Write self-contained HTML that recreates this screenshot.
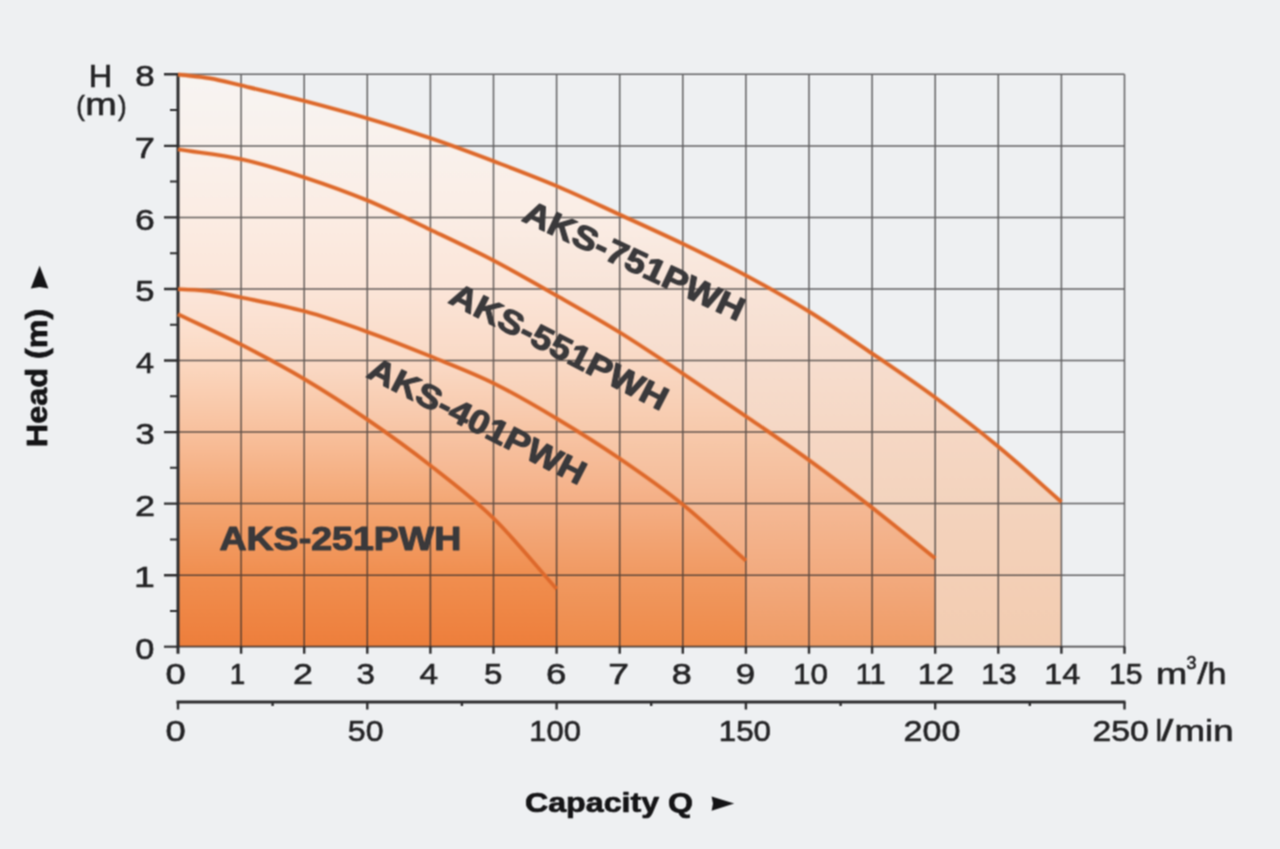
<!DOCTYPE html>
<html lang="en"><head><meta charset="utf-8"><title>Pump performance curves</title>
<style>
html,body{margin:0;padding:0;background:#eef0f2;}
body{width:1280px;height:849px;overflow:hidden;font-family:"Liberation Sans",sans-serif;}
svg{display:block;}
text{font-family:"Liberation Sans",sans-serif;}
.t{fill:#232325;stroke:#232325;stroke-width:0.6px;}
.b{font-weight:bold;fill:#3a393b;stroke:#3a393b;stroke-width:1.1px;stroke-linejoin:round;}
.k{font-weight:bold;fill:#141416;stroke:#141416;stroke-width:0.7px;stroke-linejoin:round;}
</style></head><body>
<svg width="1280" height="849" viewBox="0 0 1280 849">
<defs>
<filter id="soft" x="0" y="0" width="1280" height="849" filterUnits="userSpaceOnUse" color-interpolation-filters="sRGB"><feConvolveMatrix order="3" kernelMatrix="1 2 1 2 4 2 1 2 1" divisor="16" edgeMode="duplicate" preserveAlpha="true"/></filter>
<linearGradient id="g751" gradientUnits="userSpaceOnUse" x1="0" y1="74.3" x2="0" y2="646.7">
<stop offset="0.0000" stop-color="#f7f4f2"/>
<stop offset="0.1250" stop-color="#f9f1ec"/>
<stop offset="0.2500" stop-color="#faede5"/>
<stop offset="0.3750" stop-color="#f8e4d8"/>
<stop offset="0.5000" stop-color="#f6ddce"/>
<stop offset="0.6250" stop-color="#f5d7c4"/>
<stop offset="0.7500" stop-color="#f3d3bd"/>
<stop offset="0.8750" stop-color="#f3cfb6"/>
<stop offset="1.0000" stop-color="#f2ccb1"/>
</linearGradient>
<linearGradient id="g551" gradientUnits="userSpaceOnUse" x1="0" y1="145.9" x2="0" y2="646.7">
<stop offset="0.0000" stop-color="#f9f1ec"/>
<stop offset="0.1429" stop-color="#fbece3"/>
<stop offset="0.2857" stop-color="#fbe5d8"/>
<stop offset="0.4286" stop-color="#f9d9c5"/>
<stop offset="0.5714" stop-color="#f7c9ab"/>
<stop offset="0.7143" stop-color="#f4b995"/>
<stop offset="0.8571" stop-color="#f2aa7e"/>
<stop offset="1.0000" stop-color="#ef9b65"/>
</linearGradient>
<linearGradient id="g401" gradientUnits="userSpaceOnUse" x1="0" y1="289.0" x2="0" y2="646.7">
<stop offset="0.0000" stop-color="#fbe6da"/>
<stop offset="0.2000" stop-color="#fadac6"/>
<stop offset="0.4000" stop-color="#f7c4a4"/>
<stop offset="0.6000" stop-color="#f4ae84"/>
<stop offset="0.8000" stop-color="#f09961"/>
<stop offset="1.0000" stop-color="#ee8a49"/>
</linearGradient>
<linearGradient id="g251" gradientUnits="userSpaceOnUse" x1="0" y1="310.4" x2="0" y2="646.7">
<stop offset="0.0000" stop-color="#fce4d5"/>
<stop offset="0.1489" stop-color="#fbd8c1"/>
<stop offset="0.3617" stop-color="#f8c09d"/>
<stop offset="0.5745" stop-color="#f3a673"/>
<stop offset="0.7872" stop-color="#f08e4f"/>
<stop offset="1.0000" stop-color="#ed7e3b"/>
</linearGradient>
</defs>
<g filter="url(#soft)">
<rect width="1280" height="849" fill="#eef0f2"/>
<path d="M178.0 646.7 L178.0 74.5 C188.5 75.8 199.0 76.5 209.6 78.3 C220.1 80.1 225.3 81.6 241.1 85.4 C256.9 89.2 283.2 95.4 304.2 100.9 C325.2 106.4 346.3 112.1 367.3 118.3 C388.3 124.5 409.4 131.0 430.4 138.2 C451.4 145.3 472.5 153.2 493.5 161.2 C514.5 169.2 535.6 177.1 556.6 186.0 C577.6 194.9 598.7 205.0 619.7 214.6 C640.7 224.2 661.8 233.7 682.8 243.8 C703.8 253.9 724.9 264.1 745.9 275.4 C766.9 286.7 788.0 298.5 809.0 311.5 C830.0 324.5 851.1 339.2 872.1 353.5 C893.1 367.8 914.2 382.0 935.2 397.5 C956.2 413.0 977.3 429.2 998.3 446.6 C1019.3 464.0 1040.4 483.5 1061.4 502.0 L1061.4 646.7 Z" fill="url(#g751)"/>
<path d="M178.0 646.7 L178.0 149.4 C199.0 152.7 220.1 154.5 241.1 159.2 C262.1 163.8 283.2 170.4 304.2 177.3 C325.2 184.2 346.3 191.7 367.3 200.4 C388.3 209.1 409.4 219.7 430.4 229.7 C451.4 239.7 472.5 249.5 493.5 260.5 C514.5 271.5 535.6 283.6 556.6 295.6 C577.6 307.6 598.7 319.4 619.7 332.4 C640.7 345.4 661.8 359.6 682.8 373.6 C703.8 387.6 724.9 401.9 745.9 416.3 C766.9 430.7 788.0 444.9 809.0 460.1 C830.0 475.3 851.1 491.3 872.1 507.7 C893.1 524.1 914.2 541.5 935.2 558.4 L935.2 646.7 Z" fill="url(#g551)"/>
<path d="M178.0 646.7 L178.0 289.1 C188.5 289.8 199.0 289.9 209.6 291.3 C220.1 292.7 225.3 294.1 241.1 297.4 C256.9 300.7 283.2 305.5 304.2 311.2 C325.2 316.9 346.3 324.3 367.3 331.8 C388.3 339.3 409.4 347.7 430.4 356.3 C451.4 364.9 472.5 372.8 493.5 383.2 C514.5 393.6 535.6 405.9 556.6 418.5 C577.6 431.1 598.7 444.3 619.7 458.6 C640.7 472.9 661.8 487.5 682.8 504.5 C703.8 521.5 724.9 542.0 745.9 560.7 L745.9 646.7 Z" fill="url(#g401)"/>
<path d="M178.0 646.7 L178.0 314.2 C199.0 324.3 220.1 333.8 241.1 344.6 C262.1 355.4 283.2 366.5 304.2 379.0 C325.2 391.5 346.3 405.1 367.3 419.5 C388.3 433.9 409.4 449.0 430.4 465.5 C451.4 482.0 472.5 497.7 493.5 518.3 C514.5 538.9 535.6 565.4 556.6 589.0 L556.6 646.7 Z" fill="url(#g251)"/>
<path d="M241.1 74.3 V646.7 M304.2 74.3 V646.7 M367.3 74.3 V646.7 M430.4 74.3 V646.7 M493.5 74.3 V646.7 M556.6 74.3 V646.7 M619.7 74.3 V646.7 M682.8 74.3 V646.7 M745.9 74.3 V646.7 M809.0 74.3 V646.7 M872.1 74.3 V646.7 M935.2 74.3 V646.7 M998.3 74.3 V646.7 M1061.4 74.3 V646.7 M1124.5 74.3 V646.7 M178.0 575.2 H1124.5 M178.0 503.6 H1124.5 M178.0 432.1 H1124.5 M178.0 360.5 H1124.5 M178.0 289.0 H1124.5 M178.0 217.4 H1124.5 M178.0 145.9 H1124.5 M178.0 74.3 H1124.5" stroke="#29282a" stroke-opacity="0.72" stroke-width="1.5" fill="none"/>
<path d="M178.0 646.7 H1125.2" stroke="#29282a" stroke-opacity="0.8" stroke-width="1.7" fill="none"/>
<path d="M164.0 646.7 H178.0" stroke="#2c2c2e" stroke-width="2.1" fill="none"/>
<path d="M164.0 575.2 H178.0 M164.0 503.6 H178.0 M164.0 432.1 H178.0 M164.0 360.5 H178.0 M164.0 289.0 H178.0 M164.0 217.4 H178.0 M164.0 145.9 H178.0 M164.0 74.3 H178.0 M241.1 646.7 V653.7 M304.2 646.7 V653.7 M367.3 646.7 V653.7 M430.4 646.7 V653.7 M493.5 646.7 V653.7 M556.6 646.7 V653.7 M619.7 646.7 V653.7 M682.8 646.7 V653.7 M745.9 646.7 V653.7 M809.0 646.7 V653.7 M872.1 646.7 V653.7 M935.2 646.7 V653.7 M998.3 646.7 V653.7 M1061.4 646.7 V653.7 M1124.5 646.7 V653.7" stroke="#2c2c2e" stroke-width="2.4" fill="none"/>
<path d="M170.0 610.9 H178.0 M170.0 539.4 H178.0 M170.0 467.8 H178.0 M170.0 396.3 H178.0 M170.0 324.7 H178.0 M170.0 253.2 H178.0 M170.0 181.6 H178.0 M170.0 110.1 H178.0" stroke="#2c2c2e" stroke-width="2.0" fill="none"/>
<path d="M178.0 73.6 V653.7" stroke="#2c2c2e" stroke-width="3" fill="none"/>
<path d="M178.0 74.5 C188.5 75.8 199.0 76.5 209.6 78.3 C220.1 80.1 225.3 81.6 241.1 85.4 C256.9 89.2 283.2 95.4 304.2 100.9 C325.2 106.4 346.3 112.1 367.3 118.3 C388.3 124.5 409.4 131.0 430.4 138.2 C451.4 145.3 472.5 153.2 493.5 161.2 C514.5 169.2 535.6 177.1 556.6 186.0 C577.6 194.9 598.7 205.0 619.7 214.6 C640.7 224.2 661.8 233.7 682.8 243.8 C703.8 253.9 724.9 264.1 745.9 275.4 C766.9 286.7 788.0 298.5 809.0 311.5 C830.0 324.5 851.1 339.2 872.1 353.5 C893.1 367.8 914.2 382.0 935.2 397.5 C956.2 413.0 977.3 429.2 998.3 446.6 C1019.3 464.0 1040.4 483.5 1061.4 502.0" stroke="#ee8140" stroke-opacity="0.4" stroke-width="5" fill="none" stroke-linecap="butt"/>
<path d="M178.0 74.5 C188.5 75.8 199.0 76.5 209.6 78.3 C220.1 80.1 225.3 81.6 241.1 85.4 C256.9 89.2 283.2 95.4 304.2 100.9 C325.2 106.4 346.3 112.1 367.3 118.3 C388.3 124.5 409.4 131.0 430.4 138.2 C451.4 145.3 472.5 153.2 493.5 161.2 C514.5 169.2 535.6 177.1 556.6 186.0 C577.6 194.9 598.7 205.0 619.7 214.6 C640.7 224.2 661.8 233.7 682.8 243.8 C703.8 253.9 724.9 264.1 745.9 275.4 C766.9 286.7 788.0 298.5 809.0 311.5 C830.0 324.5 851.1 339.2 872.1 353.5 C893.1 367.8 914.2 382.0 935.2 397.5 C956.2 413.0 977.3 429.2 998.3 446.6 C1019.3 464.0 1040.4 483.5 1061.4 502.0" stroke="#dd692c" stroke-width="3.4" fill="none" stroke-linecap="butt"/>
<path d="M178.0 149.4 C199.0 152.7 220.1 154.5 241.1 159.2 C262.1 163.8 283.2 170.4 304.2 177.3 C325.2 184.2 346.3 191.7 367.3 200.4 C388.3 209.1 409.4 219.7 430.4 229.7 C451.4 239.7 472.5 249.5 493.5 260.5 C514.5 271.5 535.6 283.6 556.6 295.6 C577.6 307.6 598.7 319.4 619.7 332.4 C640.7 345.4 661.8 359.6 682.8 373.6 C703.8 387.6 724.9 401.9 745.9 416.3 C766.9 430.7 788.0 444.9 809.0 460.1 C830.0 475.3 851.1 491.3 872.1 507.7 C893.1 524.1 914.2 541.5 935.2 558.4" stroke="#ee8140" stroke-opacity="0.4" stroke-width="5" fill="none" stroke-linecap="butt"/>
<path d="M178.0 149.4 C199.0 152.7 220.1 154.5 241.1 159.2 C262.1 163.8 283.2 170.4 304.2 177.3 C325.2 184.2 346.3 191.7 367.3 200.4 C388.3 209.1 409.4 219.7 430.4 229.7 C451.4 239.7 472.5 249.5 493.5 260.5 C514.5 271.5 535.6 283.6 556.6 295.6 C577.6 307.6 598.7 319.4 619.7 332.4 C640.7 345.4 661.8 359.6 682.8 373.6 C703.8 387.6 724.9 401.9 745.9 416.3 C766.9 430.7 788.0 444.9 809.0 460.1 C830.0 475.3 851.1 491.3 872.1 507.7 C893.1 524.1 914.2 541.5 935.2 558.4" stroke="#dd692c" stroke-width="3.4" fill="none" stroke-linecap="butt"/>
<path d="M178.0 289.1 C188.5 289.8 199.0 289.9 209.6 291.3 C220.1 292.7 225.3 294.1 241.1 297.4 C256.9 300.7 283.2 305.5 304.2 311.2 C325.2 316.9 346.3 324.3 367.3 331.8 C388.3 339.3 409.4 347.7 430.4 356.3 C451.4 364.9 472.5 372.8 493.5 383.2 C514.5 393.6 535.6 405.9 556.6 418.5 C577.6 431.1 598.7 444.3 619.7 458.6 C640.7 472.9 661.8 487.5 682.8 504.5 C703.8 521.5 724.9 542.0 745.9 560.7" stroke="#ee8140" stroke-opacity="0.4" stroke-width="5" fill="none" stroke-linecap="butt"/>
<path d="M178.0 289.1 C188.5 289.8 199.0 289.9 209.6 291.3 C220.1 292.7 225.3 294.1 241.1 297.4 C256.9 300.7 283.2 305.5 304.2 311.2 C325.2 316.9 346.3 324.3 367.3 331.8 C388.3 339.3 409.4 347.7 430.4 356.3 C451.4 364.9 472.5 372.8 493.5 383.2 C514.5 393.6 535.6 405.9 556.6 418.5 C577.6 431.1 598.7 444.3 619.7 458.6 C640.7 472.9 661.8 487.5 682.8 504.5 C703.8 521.5 724.9 542.0 745.9 560.7" stroke="#dd692c" stroke-width="3.4" fill="none" stroke-linecap="butt"/>
<path d="M178.0 314.2 C199.0 324.3 220.1 333.8 241.1 344.6 C262.1 355.4 283.2 366.5 304.2 379.0 C325.2 391.5 346.3 405.1 367.3 419.5 C388.3 433.9 409.4 449.0 430.4 465.5 C451.4 482.0 472.5 497.7 493.5 518.3 C514.5 538.9 535.6 565.4 556.6 589.0" stroke="#ee8140" stroke-opacity="0.4" stroke-width="5" fill="none" stroke-linecap="butt"/>
<path d="M178.0 314.2 C199.0 324.3 220.1 333.8 241.1 344.6 C262.1 355.4 283.2 366.5 304.2 379.0 C325.2 391.5 346.3 405.1 367.3 419.5 C388.3 433.9 409.4 449.0 430.4 465.5 C451.4 482.0 472.5 497.7 493.5 518.3 C514.5 538.9 535.6 565.4 556.6 589.0" stroke="#dd692c" stroke-width="3.4" fill="none" stroke-linecap="butt"/>
<path d="M176.5 702.0 H1125.5" stroke="#2c2c2e" stroke-width="3" fill="none"/>
<path d="M178.0 702.0 V709.5 M272.6 702.0 V706.0 M367.3 702.0 V709.5 M461.9 702.0 V706.0 M556.6 702.0 V709.5 M651.2 702.0 V706.0 M745.9 702.0 V709.5 M840.6 702.0 V706.0 M935.2 702.0 V709.5 M1029.8 702.0 V706.0 M1124.5 702.0 V709.5" stroke="#2c2c2e" stroke-width="2.4" fill="none"/>
<text class="t" font-size="30" transform="translate(135.33 658.80) scale(1.145 1)">0</text>
<text class="t" font-size="30" transform="translate(133.98 587.25) scale(1.250 1)">1</text>
<text class="t" font-size="30" transform="translate(134.90 515.70) scale(1.201 1)">2</text>
<text class="t" font-size="30" transform="translate(135.41 444.15) scale(1.151 1)">3</text>
<text class="t" font-size="30" transform="translate(135.97 372.60) scale(1.083 1)">4</text>
<text class="t" font-size="30" transform="translate(135.32 301.05) scale(1.151 1)">5</text>
<text class="t" font-size="30" transform="translate(134.93 229.50) scale(1.182 1)">6</text>
<text class="t" font-size="30" transform="translate(134.80 157.95) scale(1.208 1)">7</text>
<text class="t" font-size="30" transform="translate(135.22 86.40) scale(1.163 1)">8</text>
<text class="t" font-size="30" transform="translate(165.54 683.90) scale(1.215 1)">0</text>
<text class="t" font-size="30" transform="translate(229.72 683.90) scale(0.930 1)">1</text>
<text class="t" font-size="30" transform="translate(292.91 683.90) scale(1.194 1)">2</text>
<text class="t" font-size="30" transform="translate(356.56 683.90) scale(1.102 1)">3</text>
<text class="t" font-size="30" transform="translate(419.55 683.90) scale(1.116 1)">4</text>
<text class="t" font-size="30" transform="translate(483.98 683.90) scale(1.102 1)">5</text>
<text class="t" font-size="30" transform="translate(545.97 683.90) scale(1.218 1)">6</text>
<text class="t" font-size="30" transform="translate(608.34 683.90) scale(1.245 1)">7</text>
<text class="t" font-size="30" transform="translate(671.77 683.90) scale(1.199 1)">8</text>
<text class="t" font-size="30" transform="translate(735.64 683.90) scale(1.168 1)">9</text>
<text class="t" font-size="30" transform="translate(792.94 683.90) scale(1.049 1)">10</text>
<text class="t" font-size="30" transform="translate(855.64 683.90) scale(0.962 1)">11</text>
<text class="t" font-size="30" transform="translate(917.87 683.90) scale(1.080 1)">12</text>
<text class="t" font-size="30" transform="translate(980.89 683.90) scale(1.071 1)">13</text>
<text class="t" font-size="30" transform="translate(1044.17 683.90) scale(1.079 1)">14</text>
<text class="t" font-size="30" transform="translate(1109.04 683.90) scale(1.005 1)">15</text>
<text class="t" font-size="30" transform="translate(165.54 741.00) scale(1.215 1)">0</text>
<text class="t" font-size="30" transform="translate(347.82 741.00) scale(1.069 1)">50</text>
<text class="t" font-size="30" transform="translate(529.28 741.00) scale(1.031 1)">100</text>
<text class="t" font-size="30" transform="translate(718.76 741.00) scale(1.042 1)">150</text>
<text class="t" font-size="30" transform="translate(903.59 741.00) scale(1.137 1)">200</text>
<text class="t" font-size="30" transform="translate(1092.51 741.00) scale(1.124 1)">250</text>
<text class="t" font-size="30" transform="translate(1155.99 683.90) scale(1.250 1)">m</text>
<text class="t" font-size="18" transform="translate(1186.53 669.20) scale(0.994 1)">3</text>
<text class="t" font-size="30" transform="translate(1197.30 683.90) scale(1.249 1)">/</text>
<text class="t" font-size="30" transform="translate(1207.42 683.90) scale(1.135 1)">h</text>
<text class="t" font-size="30" transform="translate(1155.65 741.00) scale(0.930 1)">l</text>
<text class="t" font-size="30" transform="translate(1161.30 741.00) scale(1.441 1)">/</text>
<text class="t" font-size="30" transform="translate(1174.53 741.00) scale(1.221 1)">min</text>
<text class="t" font-size="30.5" transform="translate(88.81 87.20) scale(1.070 1)">H</text>
<text class="t" font-size="27.7" transform="translate(76.31 114.80) scale(0.930 1)">(</text>
<text class="t" font-size="31" transform="translate(85.24 115.40) scale(1.221 1)">m</text>
<text class="t" font-size="27.7" transform="translate(117.93 114.80) scale(0.930 1)">)</text>
<text class="b" font-size="33" textLength="240" lengthAdjust="spacingAndGlyphs" transform="translate(520.7 220.3) rotate(25)">AKS-751PWH</text>
<text class="b" font-size="33" textLength="240" lengthAdjust="spacingAndGlyphs" transform="translate(447.2 302.2) rotate(27)">AKS-551PWH</text>
<text class="b" font-size="33" textLength="240" lengthAdjust="spacingAndGlyphs" transform="translate(365.2 376.6) rotate(27)">AKS-401PWH</text>
<text class="b" font-size="33" textLength="242" lengthAdjust="spacingAndGlyphs" x="219.4" y="550.2">AKS-251PWH</text>
<text class="k" font-size="27" textLength="168" lengthAdjust="spacingAndGlyphs" x="525" y="811.6">Capacity Q</text>
<path d="M711.6 796.4 L734.2 803.6 L711.6 810.8 L713 803.6 Z" fill="#141416"/>
<text class="k" font-size="29" textLength="138.5" lengthAdjust="spacingAndGlyphs" transform="translate(46.6 447.2) rotate(-90)">Head (m)</text>
<path d="M30.8 288.4 L39.6 265.8 L48.4 288.4 L39.6 287 Z" fill="#141416"/>
</g></svg></body></html>
